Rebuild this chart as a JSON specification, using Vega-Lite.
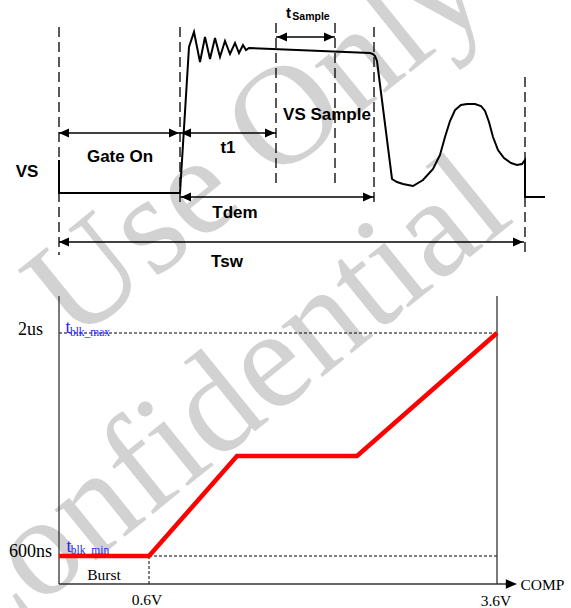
{
  "$schema": "https://vega.github.io/schema/vega-lite/v6.json",
  "width": 571,
  "height": 608,
  "padding": 0,
  "autosize": {"type": "none"},
  "background": "white",
  "config": {"view": {"stroke": null}},
  "datasets": {
    "wm": [
      {"t": "Use Only", "x": 257, "y": 141},
      {"t": "Confidential", "x": 213, "y": 410}
    ],
    "segments": [
      {"kind": "marker", "x": 59, "y": 27, "x2": 59, "y2": 255},
      {"kind": "marker", "x": 180, "y": 27, "x2": 180, "y2": 206},
      {"kind": "marker", "x": 276, "y": 23, "x2": 276, "y2": 184},
      {"kind": "marker", "x": 335, "y": 23, "x2": 335, "y2": 184},
      {"kind": "marker", "x": 374, "y": 27, "x2": 374, "y2": 206},
      {"kind": "marker", "x": 525, "y": 77, "x2": 525, "y2": 254},
      {"kind": "ref", "x": 59, "y": 333, "x2": 497, "y2": 333},
      {"kind": "ref", "x": 149, "y": 556, "x2": 497, "y2": 556},
      {"kind": "ref", "x": 149, "y": 556, "x2": 149, "y2": 584},
      {"kind": "arrow", "x": 59, "y": 133, "x2": 180, "y2": 133},
      {"kind": "arrow", "x": 180, "y": 133, "x2": 276, "y2": 133},
      {"kind": "arrow", "x": 276, "y": 37, "x2": 335, "y2": 37},
      {"kind": "arrow", "x": 180, "y": 197, "x2": 374, "y2": 197},
      {"kind": "arrow", "x": 59, "y": 242, "x2": 524, "y2": 242},
      {"kind": "axis", "x": 59, "y": 296, "x2": 59, "y2": 584},
      {"kind": "axis", "x": 497, "y": 296, "x2": 497, "y2": 584},
      {"kind": "axis", "x": 59, "y": 584, "x2": 508, "y2": 584}
    ],
    "heads": [
      {"dir": "left", "x": 59, "y": 133},
      {"dir": "right", "x": 179, "y": 133},
      {"dir": "left", "x": 181, "y": 133},
      {"dir": "right", "x": 275, "y": 133},
      {"dir": "left", "x": 277, "y": 37},
      {"dir": "right", "x": 334, "y": 37},
      {"dir": "left", "x": 181, "y": 197},
      {"dir": "right", "x": 373, "y": 197},
      {"dir": "left", "x": 59, "y": 242},
      {"dir": "right", "x": 523, "y": 242},
      {"dir": "axis", "x": 517, "y": 584}
    ],
    "vs": [
      {"i": 1, "x": 59, "y": 160},
      {"i": 2, "x": 59, "y": 193},
      {"i": 3, "x": 180, "y": 193},
      {"i": 4, "x": 189, "y": 47},
      {"i": 5, "x": 194, "y": 32},
      {"i": 6, "x": 200, "y": 62},
      {"i": 7, "x": 205, "y": 37},
      {"i": 8, "x": 210, "y": 59},
      {"i": 9, "x": 215, "y": 38},
      {"i": 10, "x": 220, "y": 57},
      {"i": 11, "x": 225, "y": 41},
      {"i": 12, "x": 230, "y": 54},
      {"i": 13, "x": 235, "y": 43},
      {"i": 14, "x": 239, "y": 53},
      {"i": 15, "x": 243, "y": 45},
      {"i": 16, "x": 246, "y": 50},
      {"i": 17, "x": 249, "y": 48},
      {"i": 18, "x": 370, "y": 53},
      {"i": 19, "x": 373, "y": 54},
      {"i": 20, "x": 375, "y": 56},
      {"i": 21, "x": 377, "y": 61},
      {"i": 22, "x": 392, "y": 179},
      {"i": 23, "x": 397, "y": 182},
      {"i": 24, "x": 403, "y": 184},
      {"i": 25, "x": 413, "y": 186},
      {"i": 26, "x": 423, "y": 180},
      {"i": 27, "x": 433, "y": 169},
      {"i": 28, "x": 440, "y": 155},
      {"i": 29, "x": 445, "y": 137},
      {"i": 30, "x": 450, "y": 121},
      {"i": 31, "x": 455, "y": 110},
      {"i": 32, "x": 461, "y": 105},
      {"i": 33, "x": 467, "y": 104},
      {"i": 34, "x": 475, "y": 104},
      {"i": 35, "x": 481, "y": 106},
      {"i": 36, "x": 485, "y": 111},
      {"i": 37, "x": 489, "y": 122},
      {"i": 38, "x": 493, "y": 137},
      {"i": 39, "x": 498, "y": 150},
      {"i": 40, "x": 504, "y": 158},
      {"i": 41, "x": 511, "y": 163},
      {"i": 42, "x": 517, "y": 165},
      {"i": 43, "x": 522, "y": 164},
      {"i": 44, "x": 525, "y": 160},
      {"i": 45, "x": 525, "y": 197},
      {"i": 46, "x": 545, "y": 197}
    ],
    "tblk": [
      {"i": 1, "x": 59, "y": 556},
      {"i": 2, "x": 149, "y": 556},
      {"i": 3, "x": 237, "y": 456},
      {"i": 4, "x": 357, "y": 456},
      {"i": 5, "x": 497, "y": 333}
    ],
    "labels": [
      {"group": "sans", "text": "VS", "x": 27, "y": 177},
      {"group": "sans", "text": "Gate On", "x": 120, "y": 162},
      {"group": "sans", "text": "t1", "x": 228, "y": 153},
      {"group": "sans", "text": "VS Sample", "x": 327, "y": 120},
      {"group": "sans", "text": "Tdem", "x": 235, "y": 218},
      {"group": "sans", "text": "Tsw", "x": 227, "y": 267},
      {"group": "sansT", "text": "t", "x": 288.5, "y": 18},
      {"group": "sansSub", "text": "Sample", "x": 311, "y": 20},
      {"group": "serifBig", "text": "2us", "x": 30.5, "y": 335},
      {"group": "serifBig", "text": "600ns", "x": 30.5, "y": 557},
      {"group": "serif", "text": "Burst", "x": 104, "y": 580},
      {"group": "serif", "text": "0.6V", "x": 147, "y": 605},
      {"group": "serif", "text": "3.6V", "x": 496, "y": 606},
      {"group": "serif", "text": "COMP", "x": 542.5, "y": 590},
      {"group": "blueT", "text": "t", "x": 68, "y": 333},
      {"group": "blueSub", "text": "blk_max", "x": 90, "y": 336},
      {"group": "blueT", "text": "t", "x": 69, "y": 552},
      {"group": "blueSub", "text": "blk_min", "x": 90, "y": 554}
    ]
  },
  "encoding": {
    "x": {"field": "x", "type": "quantitative", "scale": {"domain": [0, 571], "nice": false, "zero": false}, "axis": null},
    "y": {"field": "y", "type": "quantitative", "scale": {"domain": [0, 608], "nice": false, "zero": false, "reverse": true}, "axis": null}
  },
  "layer": [
    {
      "data": {"name": "wm"},
      "mark": {"type": "text", "font": "Liberation Serif", "fontSize": 142, "angle": -39, "align": "center", "baseline": "middle", "color": "#d2d2d2"},
      "encoding": {"text": {"field": "t"}}
    },
    {
      "data": {"name": "segments"},
      "transform": [{"filter": "datum.kind === 'marker'"}],
      "mark": {"type": "rule", "color": "black", "strokeWidth": 1.3, "strokeDash": [10, 5]},
      "encoding": {"x2": {"field": "x2"}, "y2": {"field": "y2"}}
    },
    {
      "data": {"name": "segments"},
      "transform": [{"filter": "datum.kind === 'ref'"}],
      "mark": {"type": "rule", "color": "black", "strokeWidth": 1, "strokeDash": [3, 2]},
      "encoding": {"x2": {"field": "x2"}, "y2": {"field": "y2"}}
    },
    {
      "data": {"name": "segments"},
      "transform": [{"filter": "datum.kind === 'arrow'"}],
      "mark": {"type": "rule", "color": "black", "strokeWidth": 1.6},
      "encoding": {"x2": {"field": "x2"}, "y2": {"field": "y2"}}
    },
    {
      "data": {"name": "segments"},
      "transform": [{"filter": "datum.kind === 'axis'"}],
      "mark": {"type": "rule", "color": "#333333", "strokeWidth": 1.3},
      "encoding": {"x2": {"field": "x2"}, "y2": {"field": "y2"}}
    },
    {
      "data": {"name": "vs"},
      "mark": {"type": "line", "color": "black", "strokeWidth": 2},
      "encoding": {"order": {"field": "i", "type": "quantitative"}}
    },
    {
      "data": {"name": "tblk"},
      "mark": {"type": "line", "color": "#ff0000", "strokeWidth": 4.5},
      "encoding": {"order": {"field": "i", "type": "quantitative"}}
    },
    {
      "data": {"name": "heads"},
      "transform": [{"filter": "datum.dir === 'right'"}],
      "mark": {"type": "point", "shape": "M0,0L-1,-0.45L-1,0.45Z", "size": 400, "filled": true, "color": "black", "opacity": 1, "strokeWidth": 0}
    },
    {
      "data": {"name": "heads"},
      "transform": [{"filter": "datum.dir === 'left'"}],
      "mark": {"type": "point", "shape": "M0,0L1,-0.45L1,0.45Z", "size": 400, "filled": true, "color": "black", "opacity": 1, "strokeWidth": 0}
    },
    {
      "data": {"name": "heads"},
      "transform": [{"filter": "datum.dir === 'axis'"}],
      "mark": {"type": "point", "shape": "M0,0L-1,-0.42L-1,0.42Z", "size": 500, "filled": true, "color": "black", "opacity": 1, "strokeWidth": 0}
    },
    {
      "data": {"name": "labels"},
      "transform": [{"filter": "datum.group === 'sans'"}],
      "mark": {"type": "text", "font": "Liberation Sans", "fontWeight": "bold", "fontSize": 17, "align": "center", "baseline": "alphabetic", "color": "black"},
      "encoding": {"text": {"field": "text"}}
    },
    {
      "data": {"name": "labels"},
      "transform": [{"filter": "datum.group === 'sansT'"}],
      "mark": {"type": "text", "font": "Liberation Sans", "fontWeight": "bold", "fontSize": 15, "align": "center", "baseline": "alphabetic", "color": "black"},
      "encoding": {"text": {"field": "text"}}
    },
    {
      "data": {"name": "labels"},
      "transform": [{"filter": "datum.group === 'sansSub'"}],
      "mark": {"type": "text", "font": "Liberation Sans", "fontWeight": "bold", "fontSize": 10.5, "align": "center", "baseline": "alphabetic", "color": "black"},
      "encoding": {"text": {"field": "text"}}
    },
    {
      "data": {"name": "labels"},
      "transform": [{"filter": "datum.group === 'serifBig'"}],
      "mark": {"type": "text", "font": "Liberation Serif", "fontSize": 18, "align": "center", "baseline": "alphabetic", "color": "black"},
      "encoding": {"text": {"field": "text"}}
    },
    {
      "data": {"name": "labels"},
      "transform": [{"filter": "datum.group === 'serif'"}],
      "mark": {"type": "text", "font": "Liberation Serif", "fontSize": 15.5, "align": "center", "baseline": "alphabetic", "color": "black"},
      "encoding": {"text": {"field": "text"}}
    },
    {
      "data": {"name": "labels"},
      "transform": [{"filter": "datum.group === 'blueT'"}],
      "mark": {"type": "text", "font": "Liberation Serif", "fontSize": 18, "align": "center", "baseline": "alphabetic", "color": "#1f1fff"},
      "encoding": {"text": {"field": "text"}}
    },
    {
      "data": {"name": "labels"},
      "transform": [{"filter": "datum.group === 'blueSub'"}],
      "mark": {"type": "text", "font": "Liberation Serif", "fontSize": 11.5, "align": "center", "baseline": "alphabetic", "color": "#1f1fff"},
      "encoding": {"text": {"field": "text"}}
    }
  ]
}
